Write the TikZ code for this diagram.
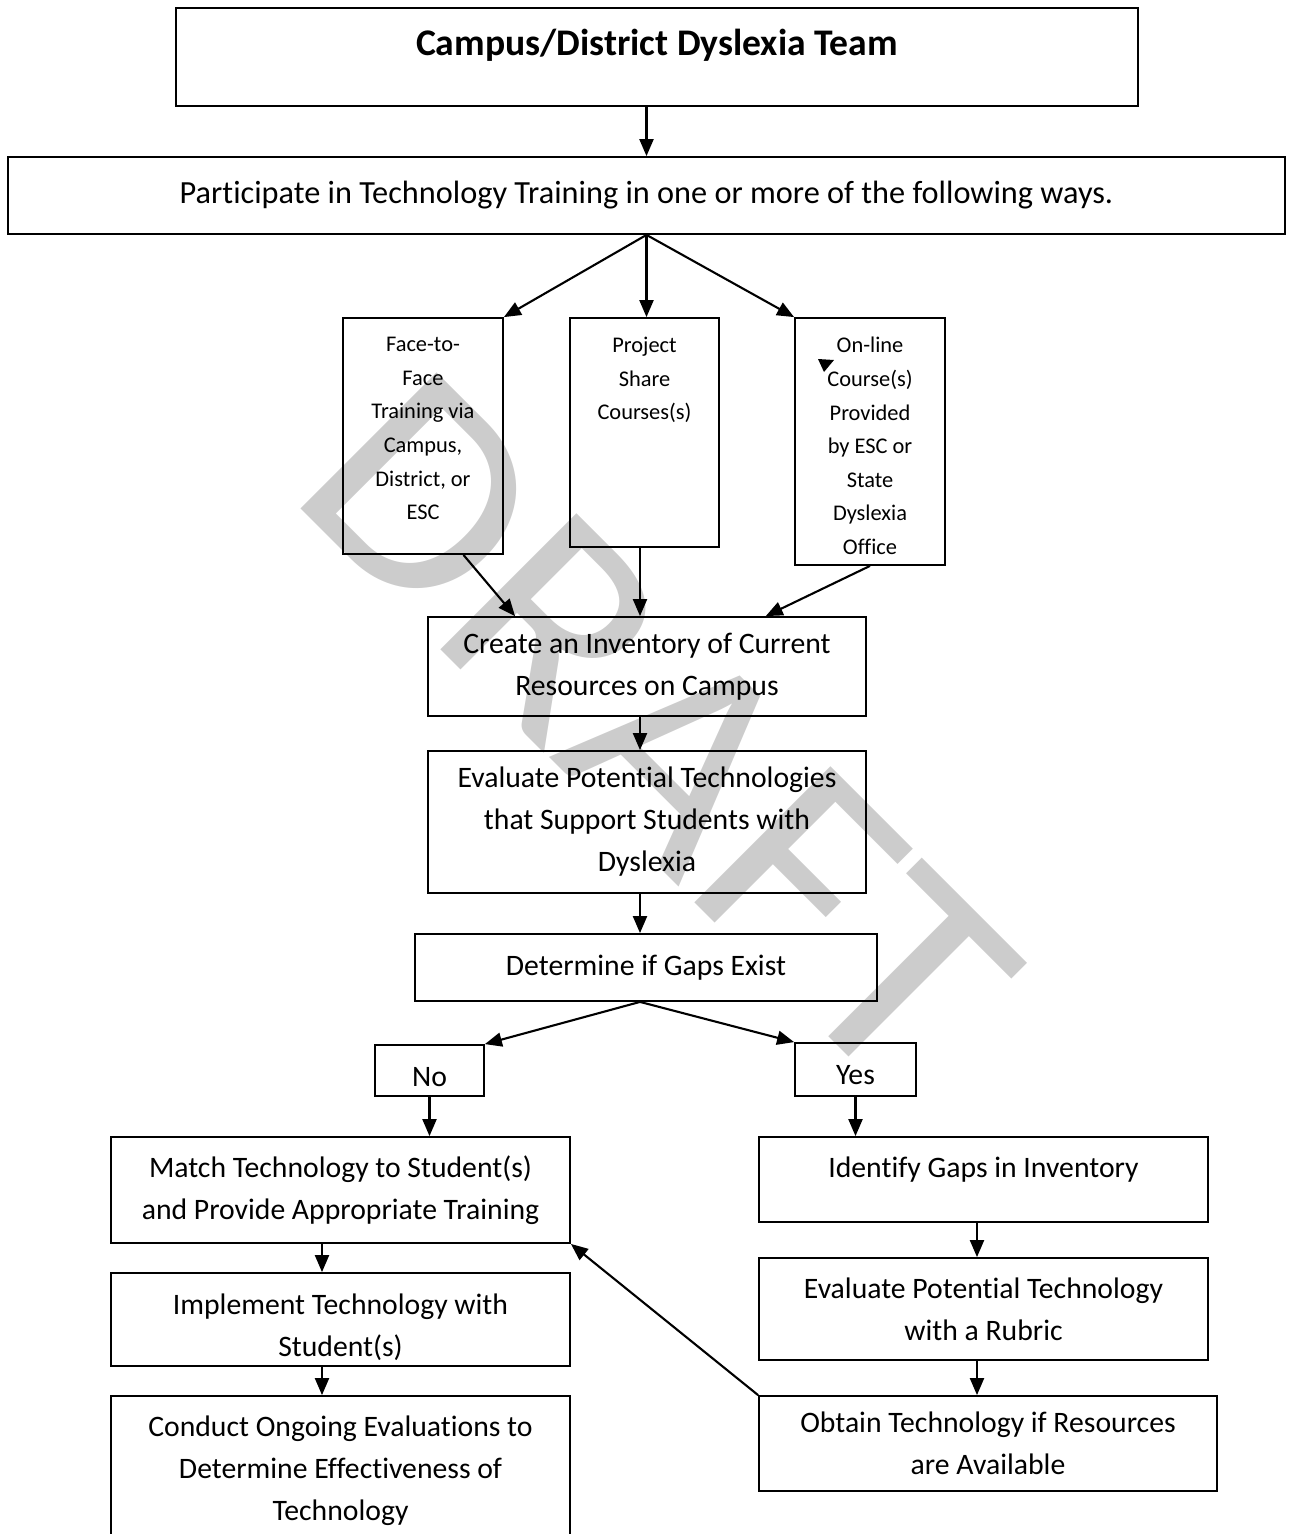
\documentclass[tikz,border=0pt]{standalone}
\usepackage{fontspec}
\setmainfont{Carlito}[Ligatures=NoCommon]
\usetikzlibrary{calc,arrows.meta}
\definecolor{watermark}{RGB}{204,204,204}
\tikzset{>={Triangle[length=17pt,width=14pt]}, % filled Word-like tips
  block/.style={draw, line width=1.8pt, inner sep=0pt, align=center,
    font={\fontsize{29.7}{42}\selectfont}},
  small block/.style={draw, line width=1.8pt, inner sep=0pt},
  small text/.style={inner sep=0pt, align=center,
    font={\fontsize{22.4}{33.6}\selectfont}},
  flow/.style={->, line width=2.1pt},
  flow chart/.style={x=1pt, y=-1pt},
}

\begin{document}
\begin{tikzpicture}[flow chart]

    \useasboundingbox (0,0) rectangle (1288,1534);

    % watermark behind everything
    \node [text=watermark, rotate=-45, xscale=1.07, inner sep=0pt,
    font={\fontsize{300}{300}\selectfont}] (draft) at (658,730) {DRAFT};

    \node [block, minimum width=962, minimum height=98] (team) at (657,57) {};
    \node [inner sep=0pt, anchor=base, font={\fontsize{37.6}{44}\selectfont\bfseries}]
    (team text) at (657,55) {Campus/District Dyslexia Team};

    \node [block, minimum width=1277, minimum height=77, font={\fontsize{32.3}{42}\selectfont}]
    (part) at (646.5,195.5)
    {Participate in Technology Training in one or more of the following ways.};

    % three ways of training
    \node [small block, minimum width=160, minimum height=236] (face) at (423,436) {};
    \node [small text, anchor=north, yshift=-20pt] (face text) at (face.north)
    {Face-to-\\Face\\Training via\\Campus,\\District, or\\ESC};

    \node [small block, minimum width=149, minimum height=229] (project) at (644.5,432.5) {};
    \node [small text, anchor=north, yshift=-20pt] (project text) at (project.north)
    {Project\\Share\\Courses(s)};

    \node [small block, minimum width=150, minimum height=247] (online) at (870,441.5) {};
    \node [small text, anchor=north, yshift=-20pt] (online text) at (online.north)
    {On-line\\Course(s)\\Provided\\by ESC or\\State\\Dyslexia\\Office};
    \fill (818,359) -- (834,360) -- (824,372) -- cycle;

    \node [block, minimum width=438, minimum height=99] (create) at (647,666.5)
    {Create an Inventory of Current\\Resources on Campus};
    \node [block, minimum width=438, minimum height=142] (evalt) at (647,822)
    {Evaluate Potential Technologies\\that Support Students with\\Dyslexia};
    \node [block, minimum width=462, minimum height=67] (gaps) at (646,967.5)
    {Determine if Gaps Exist};

    \node [block, minimum width=109, minimum height=51, text height=31pt, text depth=0pt]
    (no) at (429.5,1070.5) {No};
    \node [block, minimum width=121, minimum height=53, text height=30pt, text depth=0pt]
    (yes) at (855.5,1069.5) {Yes};

    % left branch
    \node [block, minimum width=459, minimum height=106] (match) at (340.5,1190)
    {Match Technology to Student(s)\\and Provide Appropriate Training};
    \node [block, minimum width=459, minimum height=93] (implement) at (340.5,1319.5) {};
    \node [block, draw=none, anchor=north, yshift=-21pt] (implement text) at (implement.north)
    {Implement Technology with\\Student(s)};
    \node [block, minimum width=459, minimum height=149] (conduct) at (340.5,1470.5)
    {Conduct Ongoing Evaluations to\\Determine Effectiveness of\\Technology};

    % right branch
    \node [block, minimum width=449, minimum height=85] (identify) at (983.5,1179.5) {};
    \node [inner sep=0pt, anchor=base, font={\fontsize{29.7}{42}\selectfont}]
    (identify text) at (983.5,1177) {Identify Gaps in Inventory};
    \node [block, minimum width=449, minimum height=102] (evaltech) at (983.5,1309)
    {Evaluate Potential Technology\\with a Rubric};
    \node [block, minimum width=458, minimum height=95] (obtain) at (988,1443.5)
    {Obtain Technology if Resources\\are Available};

    \coordinate (spine) at (640,0);
    \coordinate (left spine) at (322,0);
    \coordinate (right spine) at (977,0);

    \draw [flow] (team.south -| part.north) -- (part.north);
    \draw [flow] (part.south) -- (face.north east);
    \draw [flow] (part.south) -- (part.south |- project.north);
    \draw [flow] (part.south) -- (online.north west);

    \draw [flow] ($(face.south)!0.5!(face.south east)$)
    -- ($(create.north west)!0.2!(create.north east)$);
    \draw [flow] (project.south -| spine) -- (create.north -| spine);
    \draw [flow] (online.south) -- ($(create.north west)!0.77!(create.north east)$);

    \draw [flow] (create.south -| spine) -- (evalt.north -| spine);
    \draw [flow] (evalt.south -| spine) -- (gaps.north -| spine);
    \draw [flow] (gaps.south -| spine) -- (no.north east);
    \draw [flow] (gaps.south -| spine) -- (yes.north west);

    \draw [flow] (no.south) -- (no.south |- match.north);
    \draw [flow] (match.south -| left spine) -- (implement.north -| left spine);
    \draw [flow] (implement.south -| left spine) -- (conduct.north -| left spine);

    \draw [flow] (yes.south) -- (yes.south |- identify.north);
    \draw [flow] (identify.south -| right spine) -- (evaltech.north -| right spine);
    \draw [flow] (evaltech.south -| right spine) -- (obtain.north -| right spine);
    \draw [flow] (obtain.north west) -- (match.south east);

\end{tikzpicture}
\end{document}
